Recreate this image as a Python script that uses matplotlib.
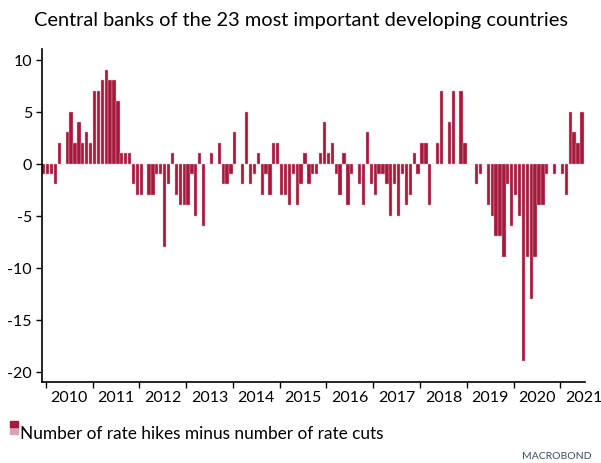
import pandas as pd
import matplotlib.pyplot as plt
from matplotlib.patches import Rectangle

FONT = "Lato"
BAR_COLOR = "#a6193c"

START_MONTH = "2009-12"
# hikes minus cuts, one value per month
net_hikes = [
    -1, -1, -1, -2, 2, 0, 3, 5, 2, 4, 2, 3, 2,          # 2009-12 .. 2010-12
    7, 7, 8, 9, 8, 8, 6, 1, 1, 1, -2, -3,               # 2011
    -3, 0, -3, -3, -1, -1, -8, -2, 1, -3, -4, -4,       # 2012
    -4, -1, -5, 1, -6, 0, 1, 0, 2, -2, -2, -1,          # 2013
    3, 0, -2, 5, -2, -1, 1, -3, -1, -3, 2, 2,           # 2014
    -3, -3, -4, -1, -4, -2, 1, -2, -1, -1, 1, 4,        # 2015
    1, 2, -1, -3, 1, -4, -1, 0, -2, -4, 3, -2,          # 2016
    -3, -1, -1, -2, -5, -2, -5, -1, -4, -3, 1, -1,      # 2017
    2, 2, -4, 0, 2, 7, 0, 4, 7, 0, 7, 2,                # 2018
    0, 0, -2, -1, 0, -4, -5, -7, -7, -9, -2, -6,        # 2019
    -3, -5, -19, -9, -13, -9, -4, -4, -1, 0, -1, 0,     # 2020
    -1, -3, 5, 3, 2, 5,                                 # 2021
]
YEARS = list(range(2010, 2022))
Y_TICKS = [-20, -15, -10, -5, 0, 5, 10]
TITLE = "Central banks of the 23 most important developing countries"
LEGEND_LABEL = "Number of rate hikes minus number of rate cuts"

months = pd.period_range(START_MONTH, periods=len(net_hikes), freq="M")
x = [(m.year - 2010) * 12 + (m.month - 1) + 0.5 for m in months]

fig = plt.figure(figsize=(6.01, 4.64), dpi=100)
ax = fig.add_axes([0.0694, 0.1746, 0.9040, 0.7174])

ax.bar(x, net_hikes, width=0.84, color=BAR_COLOR,
       edgecolor="#e7b3bf", linewidth=0.3)

ax.set_xlim(-1.03, 138.3)
ax.set_ylim(-21, 11)

ax.set_yticks(Y_TICKS)
ax.set_yticklabels([str(v) for v in Y_TICKS], fontsize=11.5, family=FONT)

year_starts = [(y - 2010) * 12 for y in YEARS]
ax.set_xticks(year_starts)
ax.set_xticklabels([])
ax.set_xticks([s + 6 for s in year_starts], minor=True)
ax.set_xticklabels([str(y) for y in YEARS], minor=True, fontsize=11.5, family=FONT)
ax.tick_params(axis="x", which="major", length=4, width=1, direction="out")
ax.tick_params(axis="x", which="minor", length=0, pad=6)
ax.tick_params(axis="y", length=4, width=1, direction="out", pad=3)

for side in ["top", "right"]:
    ax.spines[side].set_visible(False)
ax.spines["left"].set_linewidth(1.2)
ax.spines["bottom"].set_linewidth(1.2)

fig.text(0.5, 0.955, TITLE, ha="center", va="center", fontsize=14.4, family=FONT)

# legend swatch, dark top and light bottom
fig.patches.append(Rectangle((0.017, 0.063), 0.013, 0.014, transform=fig.transFigure,
                             color="#dca2b1", figure=fig))
fig.patches.append(Rectangle((0.017, 0.077), 0.013, 0.014, transform=fig.transFigure,
                             color=BAR_COLOR, figure=fig))
fig.text(0.033, 0.064, LEGEND_LABEL, ha="left", va="center", fontsize=12.4, family=FONT)

fig.text(0.985, 0.007, "MACROBOND", ha="right", va="bottom", fontsize=7.5,
         family=FONT, color="#3d4d63")

plt.savefig("out.png", dpi=100)
